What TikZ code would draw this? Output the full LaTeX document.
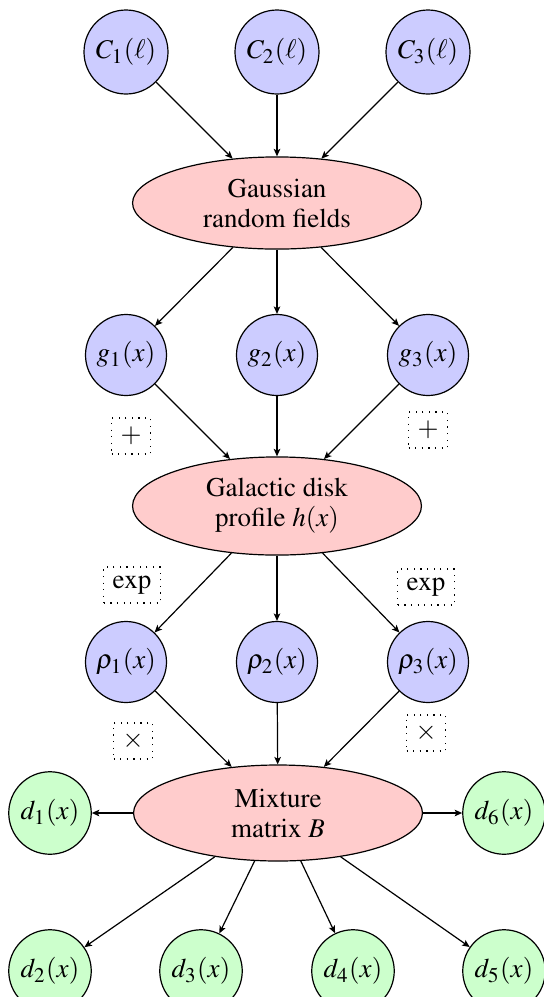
\documentclass[tikz,border=0pt]{standalone}
\usepackage[T1]{fontenc}
\usepackage{mathptmx}
\usetikzlibrary{shapes.geometric,arrows.meta}
\begin{document}
\begin{tikzpicture}[x=0.33333pt,y=-0.33333pt,
  font=\fontsize{9}{10}\selectfont,
  pnode/.style={circle,draw,fill=blue!20,minimum size=27pt,inner sep=0.5pt},
  tnode/.style={circle,draw,fill=blue!20,minimum size=28pt,inner sep=0.5pt},
  dnode/.style={circle,draw,fill=green!20,minimum size=27.5pt,inner sep=0.5pt},
  proc/.style={ellipse,draw,fill=red!20,minimum width=96.3pt,inner sep=0pt,align=center},
  opbox/.style={draw,dash pattern=on 0.4pt off 1.8pt,inner sep=3pt},
  arr/.style={-{Stealth[length=2.5pt,width=2.2pt,inset=0.6pt]}}]
\clip (0,0) rectangle (544,997);
\useasboundingbox (0,0) rectangle (544,997);
\node[tnode] (C1) at (126,52) {$C_1(\ell)$};
\node[tnode] (C2) at (277,52) {$C_2(\ell)$};
\node[tnode] (C3) at (428,52) {$C_3(\ell)$};
\node[proc,minimum height=30.7pt] (G) at (277,203) {Gaussian\\random fields};
\node[pnode] (g1) at (126,355) {$g_1(x)$};
\node[pnode] (g2) at (277,355) {$g_2(x)$};
\node[pnode] (g3) at (428,355) {$g_3(x)$};
\node[proc,minimum height=32.7pt] (H) at (277,506) {Galactic disk\\profile $h(x)$};
\node[pnode] (r1) at (126,662) {$\rho_1(x)$};
\node[pnode] (r2) at (277,662) {$\rho_2(x)$};
\node[pnode] (r3) at (428,662) {$\rho_3(x)$};
\node[proc,minimum height=32pt] (B) at (278,813) {Mixture\\matrix $B$};
\node[dnode] (d1) at (50,813) {$d_1(x)$};
\node[dnode] (d6) at (504,813) {$d_6(x)$};
\node[dnode] (d2) at (50,971) {$d_2(x)$};
\node[dnode] (d3) at (201,971) {$d_3(x)$};
\node[dnode] (d4) at (353,971) {$d_4(x)$};
\node[dnode] (d5) at (504,971) {$d_5(x)$};
\node[opbox] (p1) at (131,436) {$+$};
\node[opbox] (p2) at (428,430) {$+$};
\node[opbox] (e1) at (132,585) {$\exp$};
\node[opbox] (e2) at (426,587) {$\exp$};
\node[opbox] (t1) at (133,741) {$\times$};
\node[opbox] (t2) at (426,733) {$\times$};
\foreach \a in {C1,C2,C3} \draw[arr] (\a) -- (G);
\foreach \a in {g1,g2,g3} \draw[arr] (G) -- (\a);
\foreach \a in {g1,g2,g3} \draw[arr] (\a) -- (H);
\foreach \a in {r1,r2,r3} \draw[arr] (H) -- (\a);
\foreach \a in {r1,r2,r3} \draw[arr] (\a) -- (B);
\foreach \a in {d1,d2,d3,d4,d5,d6} \draw[arr] (B) -- (\a);
\end{tikzpicture}
\end{document}
